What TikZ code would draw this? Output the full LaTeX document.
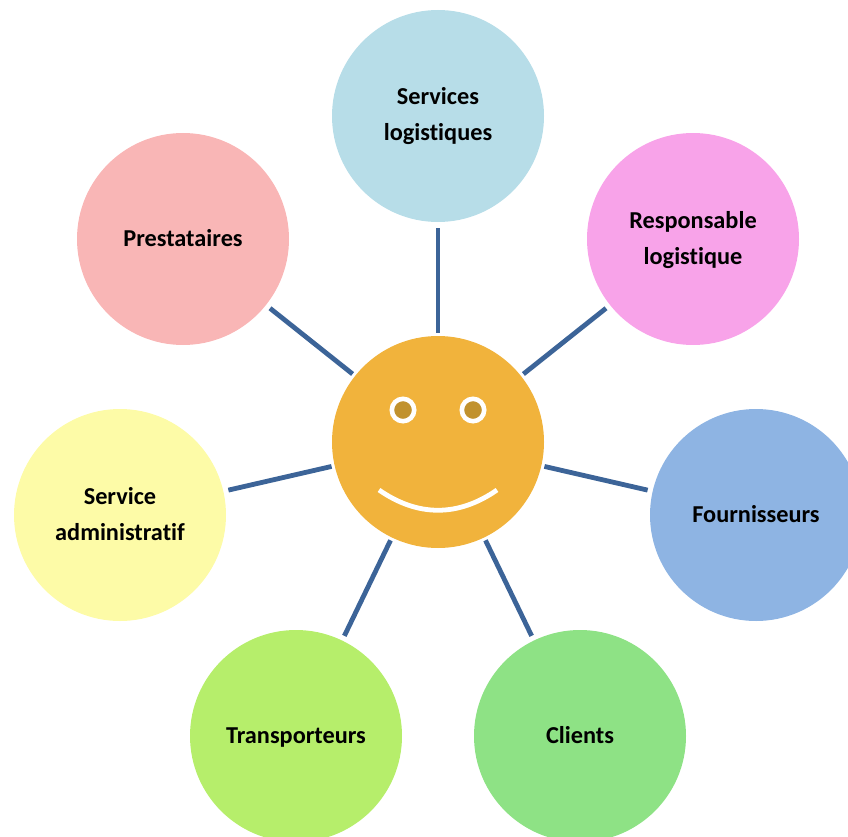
\documentclass[tikz,border=0pt]{standalone}
\usepackage{fontspec}
\setmainfont[RawFeature={-liga}]{Carlito}
\definecolor{servicesblue}{RGB}{183, 221, 232}
\definecolor{respviolet}{RGB}{248, 163, 233}
\definecolor{fournblue}{RGB}{142, 180, 227}
\definecolor{clientsgreen}{RGB}{142, 226, 133}
\definecolor{transpgreen}{RGB}{182, 238, 107}
\definecolor{adminyellow}{RGB}{253, 251, 167}
\definecolor{prestpink}{RGB}{249, 182, 182}
\definecolor{smileorange}{RGB}{241, 179, 60}
\definecolor{eyebrown}{RGB}{193, 146, 46}
\definecolor{linkblue}{RGB}{60, 100, 152}
\newcommand{\twolines}[2]{\rule{0pt}{20pt}#1\\#2\rule[-6pt]{0pt}{6pt}}
\tikzset{
  bubble/.style={circle, minimum size=212pt, inner sep=0pt, align=center, font=\fontsize{24.3}{36}\selectfont\bfseries},
  oneline/.style={bubble, text height=15pt, text depth=1pt},
  link/.style={linkblue, line width=4.8pt, shorten <=3pt, shorten >=5pt},
  eye/.style={circle, draw=white, fill=eyebrown, line width=4.6pt, minimum size=22.4pt, inner sep=0pt}
}
\begin{document}
\begin{tikzpicture}[x=1pt, y=-1pt]
  \useasboundingbox (0,0) rectangle (848,837);
  \clip (0,0) rectangle (848,837);
  \node[bubble, fill=servicesblue] (services) at (438,116) {\twolines{Services}{logistiques}};
  \node[bubble, fill=respviolet] (responsable) at (693,239) {\twolines{Responsable}{logistique}};
  \node[oneline, fill=fournblue] (fournisseurs) at (756,515) {Fournisseurs};
  \node[oneline, fill=clientsgreen] (clients) at (580,736) {Clients};
  \node[oneline, fill=transpgreen] (transporteurs) at (296,736) {Transporteurs};
  \node[bubble, fill=adminyellow] (administratif) at (120,515) {\twolines{Service}{administratif}};
  \node[oneline, fill=prestpink] (prestataires) at (183,239) {Prestataires};
  \node[bubble, fill=smileorange] (centre) at (438,442) {};
  \node[eye] (eyeleft) at (403,410) {};
  \node[eye] (eyeright) at (473,410) {};
  \coordinate (smileleft) at (379,490);
  \coordinate (smileright) at (497,490);
  \draw[white, line width=4.8pt] (smileleft) .. controls (418,517) and (458,517) .. (smileright);
  \draw[link, shorten >=6pt] (centre) -- (services);
  \draw[link] (centre) -- (responsable);
  \draw[link] (centre) -- (fournisseurs);
  \draw[link] (centre) -- (clients);
  \draw[link] (centre) -- (transporteurs);
  \draw[link] (centre) -- (administratif);
  \draw[link] (centre) -- (prestataires);
\end{tikzpicture}
\end{document}
